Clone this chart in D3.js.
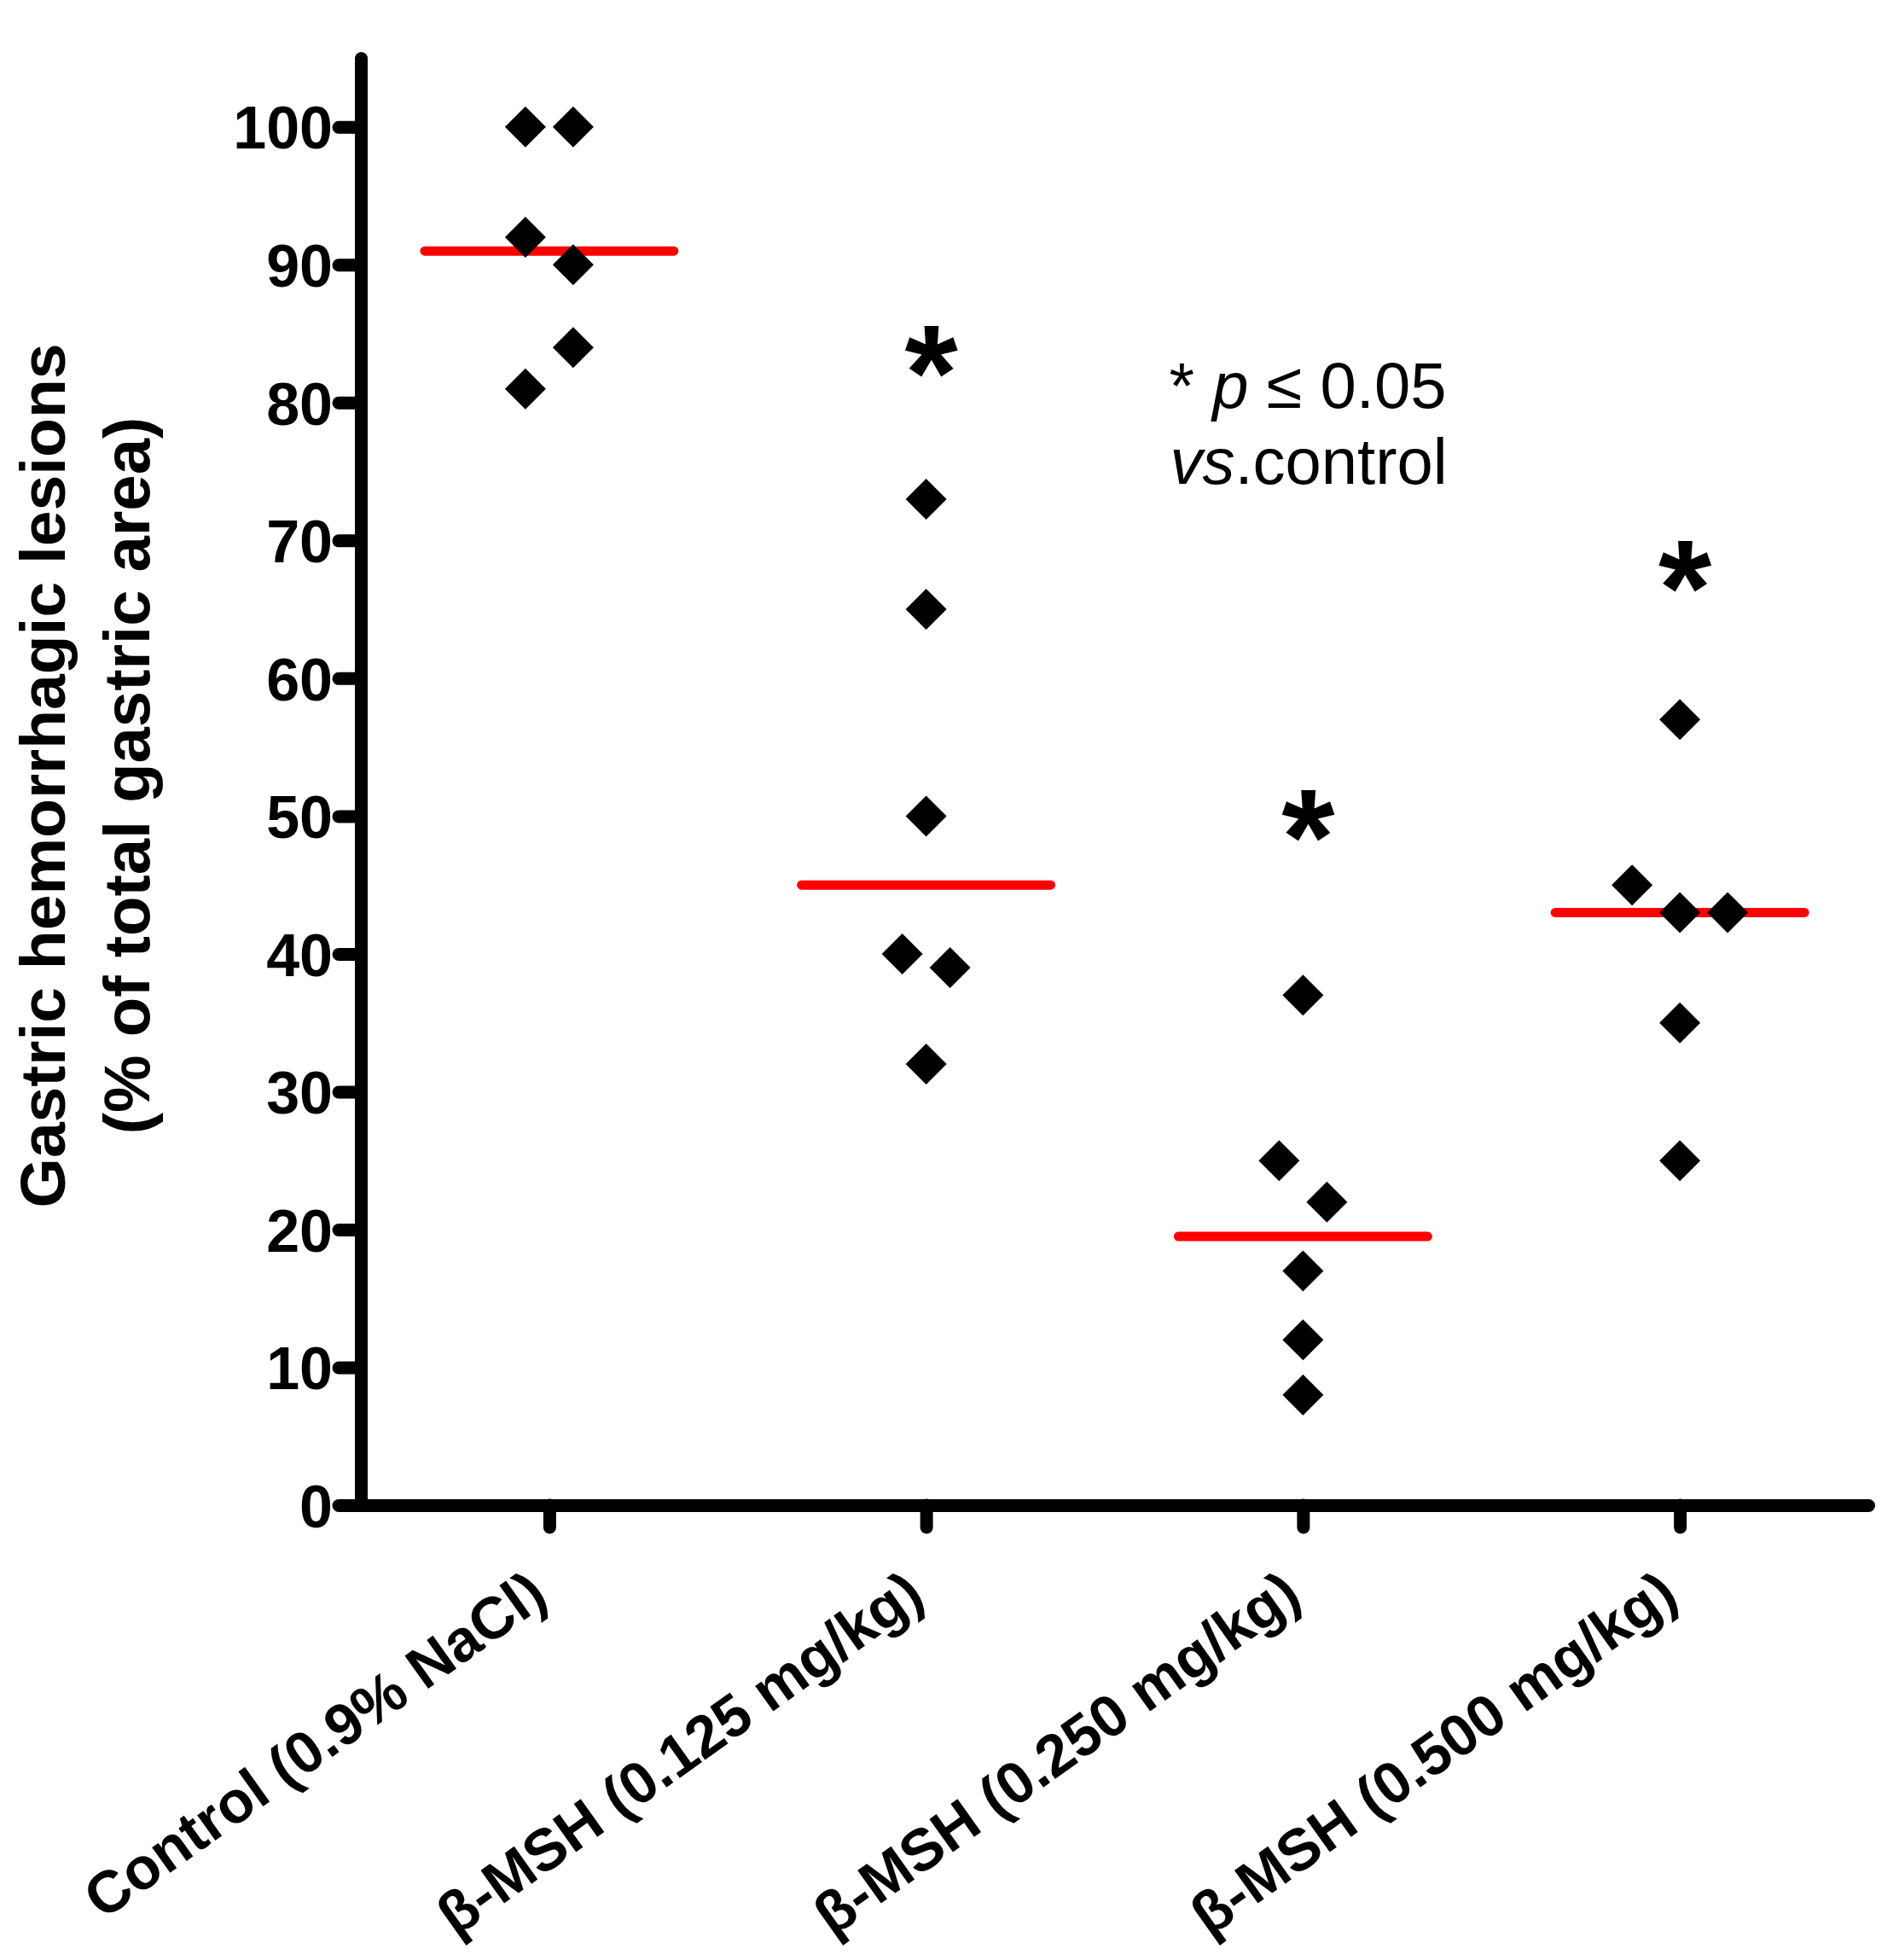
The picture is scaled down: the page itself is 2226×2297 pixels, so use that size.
<!DOCTYPE html>
<html>
<head>
<meta charset="utf-8">
<script src="https://cdn.jsdelivr.net/npm/d3@7"></script>
<style>
    body { margin: 0; background: #fff; }
    svg { display: block; font-family: "Liberation Sans", Arial, sans-serif; }
</style>
</head>
<body>
<svg id="chart"></svg>
<script>
// categories along the x axis
const categories = ["Control (0.9% NaCl)", "β-MSH (0.125 mg/kg)", "β-MSH (0.250 mg/kg)", "β-MSH (0.500 mg/kg)"];

// individual values per group (% of total gastric area)
const controlValues = [100, 100, 92, 90, 81, 84];
const msh125Values = [73, 65, 50, 40, 39, 32];
const msh250Values = [37, 25, 22, 17, 12, 8];
const msh500Values = [57, 45, 43, 43, 35, 25];

// height at which the significance asterisk sits (null = none)
const starValues = [null, 83.7, 50, 68.1];

const yTicks = [0, 10, 20, 30, 40, 50, 60, 70, 80, 90, 100];
const yMax = 105;

class DotPlot {
    constructor(_config, _groups) {
        this.config = {
            parentElement: _config.parentElement,
            containerWidth: _config.containerWidth || 2226,
            containerHeight: _config.containerHeight || 2297,
            margin: {top: 68, right: 36, bottom: 533, left: 423}
        }
        this.groups = _groups;
        this.initVis();
    }

    initVis() {
        let vis = this;

        vis.width = vis.config.containerWidth - vis.config.margin.left - vis.config.margin.right;
        vis.height = vis.config.containerHeight - vis.config.margin.top - vis.config.margin.bottom;

        vis.svg = d3.select(vis.config.parentElement)
            .attr('width', vis.config.containerWidth)
            .attr('height', vis.config.containerHeight);

        vis.svg.append('rect')
            .attr('width', vis.config.containerWidth)
            .attr('height', vis.config.containerHeight)
            .attr('fill', '#fff');

        vis.chart = vis.svg.append('g')
            .attr('transform', `translate(${vis.config.margin.left}, ${vis.config.margin.top})`);

        vis.xScale = d3.scalePoint()
            .domain(categories)
            .range([0, vis.width])
            .padding(0.5);

        vis.yScale = d3.scaleLinear()
            .domain([0, yMax])
            .range([vis.height, 0]);

        vis.xAxis = d3.axisBottom(vis.xScale)
            .tickSize(26)
            .tickSizeOuter(0)
            .tickFormat('');

        vis.yAxis = d3.axisLeft(vis.yScale)
            .tickValues(yTicks)
            .tickSize(26)
            .tickSizeOuter(0)
            .tickPadding(7);

        vis.xAxisGroup = vis.chart.append('g')
            .attr('transform', `translate(0, ${vis.height})`)
            .call(vis.xAxis);

        vis.yAxisGroup = vis.chart.append('g')
            .call(vis.yAxis);

        // thick Prism-style axes
        vis.chart.selectAll('.domain, .tick line')
            .attr('stroke', '#000')
            .attr('stroke-width', 15)
            .attr('stroke-linecap', 'round');

        vis.yAxisGroup.selectAll('text')
            .attr('fill', '#000')
            .attr('dy', '0.36em')
            .style('font-size', '70px')
            .style('font-weight', 'bold');

        // slanted category labels
        vis.chart.selectAll('.x-label')
            .data(categories)
            .join('text')
                .attr('class', 'x-label')
                .attr('transform', d => `translate(${vis.xScale(d) + 1}, ${vis.height + 113}) rotate(-35.5)`)
                .attr('text-anchor', 'end')
                .style('font-size', '69px')
                .style('font-weight', 'bold')
                .text(d => d);

        // y axis title, two lines
        const titleY = 909;
        vis.svg.append('text')
            .attr('transform', `translate(76, ${titleY}) rotate(-90)`)
            .attr('text-anchor', 'middle')
            .style('font-size', '75px')
            .style('font-weight', 'bold')
            .text('Gastric hemorrhagic lesions');
        vis.svg.append('text')
            .attr('transform', `translate(175, ${titleY}) rotate(-90)`)
            .attr('text-anchor', 'middle')
            .style('font-size', '76px')
            .style('font-weight', 'bold')
            .text('(% of total gastric area)');

        // significance note
        const note = vis.svg.append('text')
            .attr('x', 1533)
            .attr('y', 478)
            .attr('text-anchor', 'middle')
            .style('font-size', '76px');
        note.append('tspan').text('* ');
        note.append('tspan').style('font-style', 'italic').text('p');
        note.append('tspan').text(' \u2264 0.05');

        const note2 = vis.svg.append('text')
            .attr('x', 1534)
            .attr('y', 567)
            .attr('text-anchor', 'middle')
            .style('font-size', '76px');
        note2.append('tspan').style('font-style', 'italic').text('vs');
        note2.append('tspan').text('.control');

        vis.updateVis();
    }

    updateVis() {
        let vis = this;

        // spread points whose values are close, in data order (like Prism's scatter)
        vis.points = [];
        vis.groups.forEach((values, gi) => {
            let clusters = [];
            values.forEach((v, i) => {
                const last = clusters[clusters.length - 1];
                if (last && Math.abs(values[i - 1] - v) < 3.5) last.push(v);
                else clusters.push([v]);
            });
            clusters.forEach(c => {
                c.forEach((v, k) => {
                    vis.points.push({group: categories[gi], value: v, slot: k - (c.length - 1) / 2});
                });
            });
        });

        vis.medians = vis.groups.map((values, gi) => ({group: categories[gi], value: d3.median(values)}));
        vis.stars = starValues
            .map((v, gi) => ({group: categories[gi], value: v}))
            .filter(d => d.value !== null);

        vis.renderVis();
    }

    renderVis() {
        let vis = this;
        const slotWidth = 56;
        const diamond = d3.symbol().type(d3.symbolSquare).size(1152);

        vis.chart.selectAll('.median')
            .data(vis.medians)
            .join('line')
                .attr('class', 'median')
                .attr('x1', d => vis.xScale(d.group) - 146)
                .attr('x2', d => vis.xScale(d.group) + 146)
                .attr('y1', d => vis.yScale(d.value))
                .attr('y2', d => vis.yScale(d.value))
                .attr('stroke', '#ff0000')
                .attr('stroke-width', 11)
                .attr('stroke-linecap', 'round');

        vis.chart.selectAll('.point')
            .data(vis.points)
            .join('path')
                .attr('class', 'point')
                .attr('d', diamond)
                .attr('transform', d => `translate(${vis.xScale(d.group) + d.slot * slotWidth}, ${vis.yScale(d.value)}) rotate(45)`)
                .attr('fill', '#000');

        vis.chart.selectAll('.star')
            .data(vis.stars)
            .join('text')
                .attr('class', 'star')
                .attr('x', d => vis.xScale(d.group) + 6)
                .attr('y', d => vis.yScale(d.value))
                .attr('dy', '0.5em')
                .attr('text-anchor', 'middle')
                .style('font-size', '160px')
                .style('font-weight', 'bold')
                .text('*');
    }
}

const plot = new DotPlot({parentElement: '#chart'}, [controlValues, msh125Values, msh250Values, msh500Values]);
</script>
</body>
</html>
